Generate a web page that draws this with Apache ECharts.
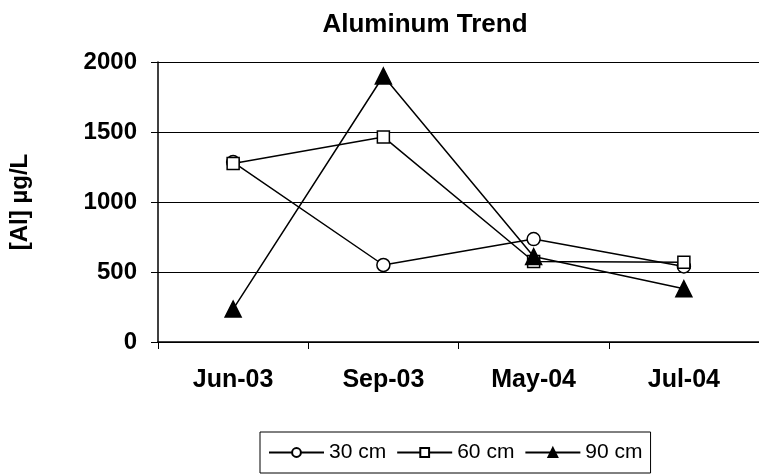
<!DOCTYPE html>
<html>
<head>
<meta charset="utf-8">
<script src="https://cdn.jsdelivr.net/npm/echarts@6/dist/echarts.min.js"></script>
<style>html,body{margin:0;padding:0;background:#fff;}#c{width:759px;height:476px;}</style>
</head>
<body>
<div id="c"></div>
<script>
const categories = ['Jun-03', 'Sep-03', 'May-04', 'Jul-04'];
const cm30 = [1285, 550, 735, 540];
const cm60 = [1275, 1465, 575, 570];
const cm90 = [235, 1900, 610, 380];
const yTicks = [0, 500, 1000, 1500, 2000];

const FONT = '"Liberation Sans", Arial, sans-serif';
const chart = echarts.init(document.getElementById('c'), null, {renderer: 'canvas'});

function mk(name, data, symbol, size, fill) {
  return {
    name: name, type: 'line', data: data,
    symbol: symbol, symbolSize: size,
    lineStyle: {color: '#000', width: 1.5},
    itemStyle: {color: fill, borderColor: '#000', borderWidth: 1.5},
    emphasis: {disabled: true},
    animation: false
  };
}

chart.setOption({
  backgroundColor: '#fff',
  animation: false,
  title: {
    text: 'Aluminum Trend', left: 420, top: 7, textAlign: 'center',
    textStyle: {fontFamily: FONT, fontSize: 26, fontWeight: 'bold', color: '#000'}
  },
  legend: {
    left: 260, top: 432,
    padding: [10, 8, 10, 8],
    itemGap: 10, itemWidth: 55, itemHeight: 11,
    borderColor: '#000', borderWidth: 1,
    textStyle: {fontFamily: FONT, fontSize: 21, color: '#000'},
    data: ['30 cm', '60 cm', '90 cm']
  },
  grid: {left: 153, top: 62, width: 610, height: 280, containLabel: false},
  xAxis: {
    type: 'category', data: categories, boundaryGap: true,
    axisLine: {lineStyle: {color: '#000', width: 1.5}},
    axisTick: {show: true, alignWithLabel: false, length: 7, lineStyle: {color: '#000', width: 1}},
    axisLabel: {fontFamily: FONT, fontSize: 25, fontWeight: 'bold', color: '#000', margin: 26}
  },
  yAxis: {
    type: 'value', min: yTicks[0], max: yTicks[yTicks.length - 1], interval: 500,
    name: '[Al] µg/L', nameLocation: 'middle', nameGap: 126, nameRotate: 90,
    nameTextStyle: {fontFamily: FONT, fontSize: 24, fontWeight: 'bold', color: '#000'},
    axisLine: {show: true, lineStyle: {color: '#000', width: 1.5}},
    axisTick: {show: true, length: 7, lineStyle: {color: '#000', width: 1}},
    axisLabel: {fontFamily: FONT, fontSize: 24, fontWeight: 'bold', color: '#000', margin: 21,
      formatter: function (v) { return String(v); }},
    splitLine: {show: true, lineStyle: {color: '#000', width: 1.2}}
  },
  series: [
    mk('30 cm', cm30, 'circle', 13, '#fff'),
    mk('60 cm', cm60, 'rect', 12, '#fff'),
    mk('90 cm', cm90, 'triangle', 16, '#000')
  ]
});
</script>
</body>
</html>
